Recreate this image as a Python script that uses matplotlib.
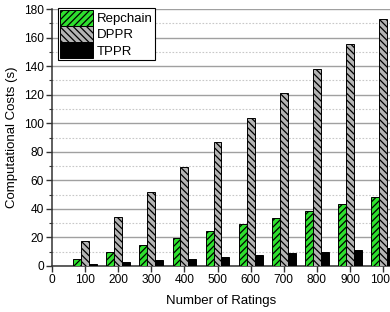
import matplotlib
matplotlib.use("Agg")
import matplotlib.pyplot as plt
import numpy as np
from matplotlib.ticker import MultipleLocator

ratings = [100, 200, 300, 400, 500, 600, 700, 800, 900, 1000]
repchain = [5.0, 9.7, 14.6, 19.4, 24.5, 29.2, 33.8, 38.7, 43.6, 48.3]
dppr = [17.5, 34.6, 52.0, 69.2, 86.5, 104.0, 121.0, 138.2, 155.6, 173.2]
tppr = [1.4, 2.6, 4.0, 5.1, 6.3, 7.7, 8.9, 10.0, 11.4, 12.6]
series_names = ["Repchain", "DPPR", "TPPR"]

plt.rcParams["font.family"] = ["Liberation Sans", "DejaVu Sans"]
plt.rcParams["hatch.linewidth"] = 0.9

fig = plt.figure(figsize=(3.9, 3.12), dpi=100)
ax = fig.add_axes([52/390, 1 - 266/312, 1 - 52/390, (266 - 9)/312])

x = np.array(ratings, dtype=float)
w = 24
ax.bar(x - w, repchain, width=w, color="#2ee02e", edgecolor="black",
       linewidth=0.7, hatch="/////", label=series_names[0], zorder=3)
ax.bar(x, dppr, width=w, color="#b4b4b4", edgecolor="black",
       linewidth=0.7, hatch="\\\\\\\\\\", label=series_names[1], zorder=3)
ax.bar(x + w, tppr, width=w, color="black", edgecolor="black",
       linewidth=0.7, label=series_names[2], zorder=3)

ax.set_xlim(0, 1021)
ax.set_ylim(0, 180)
ax.set_xticks([0] + ratings)
ax.yaxis.set_major_locator(MultipleLocator(20))
ax.yaxis.set_minor_locator(MultipleLocator(10))

ax.grid(axis="y", which="major", color="#a0a0a0", linewidth=1.0, zorder=0)
ax.grid(axis="y", which="minor", color="#c8c8c8", linewidth=0.8,
        linestyle=(0, (1.5, 1.5)), zorder=0)
ax.set_axisbelow(True)

for s in ["top", "right"]:
    ax.spines[s].set_visible(False)
for s in ["left", "bottom"]:
    ax.spines[s].set_color("#333333")
    ax.spines[s].set_linewidth(1.1)

ax.tick_params(axis="both", which="major", direction="out", length=4,
               width=1, color="#333333", labelsize=8.6, pad=2)
ax.tick_params(axis="y", which="minor", direction="out", length=2.5,
               width=0.8, color="#333333")

ax.set_xlabel("Number of Ratings", fontsize=9.5, labelpad=6)
ax.set_ylabel("Computational Costs (s)", fontsize=9.5, labelpad=4)

leg = ax.legend(loc="upper left", bbox_to_anchor=(0.018, 1.004), fontsize=9.5,
                frameon=True, fancybox=False, edgecolor="black",
                handlelength=2.5, handleheight=1.5, handletextpad=0.3,
                labelspacing=0.0, borderpad=0.15, borderaxespad=0.0)
leg.get_frame().set_linewidth(0.8)
leg.get_frame().set_alpha(1)

fig.savefig("out.png", dpi=100)
